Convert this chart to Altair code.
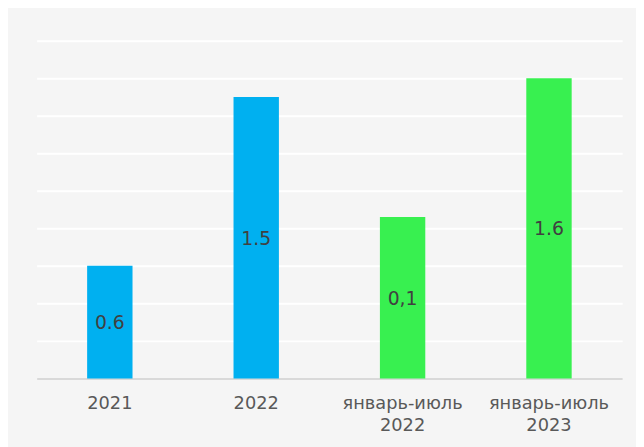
import altair as alt
import pandas as pd

categories = ["2021", "2022", "январь-июль\n2022", "январь-июль\n2023"]
values = [0.6, 1.5, 0.86, 1.6]
labels = ["0.6", "1.5", "0,1", "1.6"]
colors = ["#00B0F0", "#00B0F0", "#38F050", "#38F050"]
grid_values = [0, 0.2, 0.4, 0.6, 0.8, 1.0, 1.2, 1.4, 1.6, 1.8]

df = pd.DataFrame({"cat": categories, "val": values, "lab": labels, "col": colors})
df["mid"] = df["val"] / 2

x = alt.X(
    "cat:N",
    sort=categories,
    scale=alt.Scale(paddingInner=0.69),
    axis=alt.Axis(
        title=None,
        labelAngle=0,
        labelExpr="split(datum.label, '\\n')",
        labelFont="DejaVu Sans",
        labelFontSize=18,
        labelColor="#595959",
        labelPadding=16,
        labelLineHeight=23,
        ticks=False,
        domainColor="#D9D9D9",
        domainWidth=2,
        grid=False,
    ),
)

yaxis = alt.Axis(
    title=None,
    labels=False,
    ticks=False,
    domain=False,
    values=grid_values,
    gridColor="#FFFFFF",
    gridWidth=2,
)
yscale = alt.Scale(domain=[0, 1.8], nice=False)

bars = alt.Chart(df).mark_bar().encode(
    x=x,
    y=alt.Y("val:Q", scale=yscale, axis=yaxis),
    color=alt.Color("col:N", scale=None),
)

text = alt.Chart(df).mark_text(
    font="DejaVu Sans", fontSize=19, color="#404040", baseline="middle", dy=1
).encode(
    x=x,
    y=alt.Y("mid:Q", scale=yscale, axis=yaxis),
    text="lab:N",
)

chart = (
    alt.layer(bars, text)
    .properties(
        width=593,
        height=342,
        background="#F5F5F5",
        padding={"left": 29, "top": 30, "right": 14, "bottom": 60},
    )
    .configure_view(stroke=None)
)

chart.save("out.html", embed_options={"renderer": "svg", "actions": False})
